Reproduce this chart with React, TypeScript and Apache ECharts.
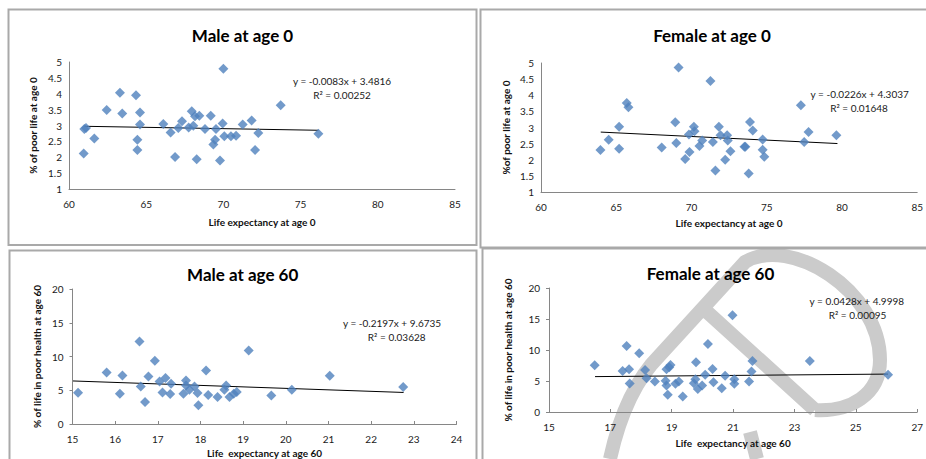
import React, { useEffect, useRef } from "react";
import * as echarts from "echarts";

// ---- Data ----
const panelTitles = ["Male at age 0", "Female at age 0", "Male at age 60", "Female at age 60"];
const xNames = ["Life expectancy at age 0", "Life expectancy at age 0", "Life  expectancy at age 60", "Life  expectancy at age 60"];
const yNames = ["% of poor life at age 0", "%of poor life at age 0", "% of life in poor health at age 60", "% of life in poor health at age 60"];
const equations = ["y = -0.0083x + 3.4816", "y = -0.0226x + 4.3037", "y = -0.2197x + 9.6735", "y = 0.0428x + 4.9998"];
const rSquared = ["R\u00b2 = 0.00252", "R\u00b2 = 0.01648", "R\u00b2 = 0.03628", "R\u00b2 = 0.00095"];
const slopes = [-0.0083, -0.0226, -0.2197, 0.0428];
const intercepts = [3.4816, 4.3037, 9.6735, 4.9998];
const trendStart = [61.0, 63.97, 15.0, 16.5];
const trendEnd = [76.15, 79.7, 22.76, 26.05];

const male0X = [60.99, 61.1, 60.95, 61.64, 62.44, 63.3, 63.45, 64.34, 64.6, 64.6, 64.43, 64.43, 66.11, 66.58, 66.87, 67.08, 67.32, 67.75, 67.95, 68.05, 68.16, 68.27, 68.44, 68.81, 69.18, 69.35, 69.46, 69.52, 69.78, 69.95, 70.0, 70.06, 70.49, 70.82, 71.25, 71.83, 72.05, 72.26, 73.71, 76.15];
const male0Y = [2.89, 2.92, 2.12, 2.59, 3.49, 4.03, 3.38, 3.95, 3.41, 3.03, 2.55, 2.23, 3.05, 2.78, 2.01, 2.92, 3.13, 2.94, 3.45, 2.99, 3.29, 1.94, 3.31, 2.89, 3.31, 2.4, 2.55, 2.89, 1.9, 3.06, 4.79, 2.66, 2.66, 2.68, 3.03, 3.16, 2.23, 2.76, 3.64, 2.74];

const female0X = [63.95, 64.5, 65.19, 65.19, 65.7, 65.81, 68.02, 68.92, 68.99, 69.14, 69.58, 69.87, 69.83, 70.16, 70.2, 70.53, 70.71, 71.26, 71.42, 71.59, 71.82, 71.93, 72.24, 72.37, 72.41, 72.59, 73.52, 73.58, 73.8, 73.89, 74.07, 74.73, 74.73, 74.84, 77.27, 77.49, 77.78, 79.63];
const female0Y = [2.3, 2.62, 3.02, 2.34, 3.76, 3.63, 2.38, 3.16, 2.52, 4.86, 2.02, 2.24, 2.78, 3.02, 2.88, 2.43, 2.6, 4.44, 2.55, 1.67, 3.02, 2.76, 2.0, 2.76, 2.6, 2.26, 2.4, 2.4, 1.57, 3.17, 2.91, 2.63, 2.31, 2.09, 3.69, 2.55, 2.86, 2.76];

const male60X = [15.13, 15.8, 16.11, 16.17, 16.57, 16.6, 16.7, 16.78, 16.93, 17.04, 17.11, 17.18, 17.29, 17.31, 17.6, 17.66, 17.66, 17.74, 17.86, 17.93, 17.95, 18.13, 18.18, 18.4, 18.56, 18.6, 18.68, 18.78, 18.85, 19.13, 19.66, 20.14, 21.03, 22.75];
const male60Y = [4.63, 7.64, 4.48, 7.19, 12.22, 5.57, 3.25, 7.04, 9.36, 6.31, 4.68, 6.8, 4.43, 5.96, 4.48, 6.45, 5.71, 5.07, 5.57, 4.58, 2.76, 7.93, 4.29, 3.99, 5.07, 5.71, 3.99, 4.48, 4.73, 10.89, 4.24, 5.07, 7.14, 5.47];

const female60X = [16.49, 17.4, 17.53, 17.61, 17.63, 17.94, 18.13, 18.18, 18.45, 18.8, 18.83, 18.83, 18.87, 18.92, 18.96, 19.12, 19.23, 19.36, 19.72, 19.77, 19.79, 19.85, 19.99, 20.09, 20.18, 20.33, 20.36, 20.63, 20.74, 20.98, 21.04, 21.04, 21.52, 21.6, 21.63, 23.5, 26.05];
const female60Y = [7.54, 6.63, 10.64, 6.9, 4.6, 9.47, 6.79, 5.45, 4.92, 5.03, 6.9, 4.28, 2.78, 7.22, 7.59, 4.55, 4.92, 2.51, 4.65, 5.29, 8.02, 3.69, 4.28, 5.99, 10.96, 6.95, 4.81, 3.85, 5.83, 15.61, 5.29, 4.55, 4.92, 6.52, 8.24, 8.24, 5.99];

const xMins = [60, 60, 15, 15];
const xMaxs = [85, 85, 24, 27];
const xIntervals = [5, 5, 1, 2];
const yMins = [1, 1, 0, 0];
const yMaxs = [5, 5, 20, 20];
const yIntervals = [0.5, 0.5, 5, 5];

const seriesX = [male0X, female0X, male60X, female60X];
const seriesY = [male0Y, female0Y, male60Y, female60Y];

// watermark shape
const WATERMARK_D =
  "M 610 459 Q 625 390 660 355 L 745 262 C 790 235 880 290 880 360 C 880 395 850 412 815 410 M 705 310 L 815 410 M 750 432 L 757 459";
echarts.graphic.registerShape("logo", echarts.graphic.extendPath(WATERMARK_D, {}));

const FONT = 'Lato, "Liberation Sans", sans-serif';

// layout
const grids = [
  { left: 69, top: 62, width: 386, height: 127 },
  { left: 541, top: 63, width: 377, height: 129 },
  { left: 72.5, top: 289, width: 384, height: 135 },
  { left: 549, top: 288, width: 371, height: 124 },
];
const xNameGaps = [28, 26, 24, 26];
const yNameGaps = [31, 30.5, 31, 36];
const titlePos = [
  [242.5, 35.5],
  [712, 35.5],
  [242.7, 274.7],
  [710.5, 273.8],
];
const eqPos = [
  [342, 81.2, 342, 95],
  [859.7, 94.3, 859, 108.3],
  [392, 322.7, 396.7, 336.7],
  [856.8, 301, 857.5, 315],
];
const frames = [
  { x: 8.5, y: 9.5, width: 468, height: 235.5 },
  { x: 480.5, y: 9.5, width: 470, height: 238 },
  { x: 9.5, y: 250.5, width: 467, height: 230 },
  { x: 482.5, y: 248.5, width: 470, height: 230 },
];

export default function App() {
  const ref = useRef<HTMLDivElement>(null);
  useEffect(() => {
    if (!ref.current) return;
    const chart = echarts.init(ref.current, undefined, { renderer: "svg" });

    const xAxis = grids.map((_, i) => ({
      type: "value",
      gridIndex: i,
      min: xMins[i],
      max: xMaxs[i],
      interval: xIntervals[i],
      name: xNames[i],
      nameLocation: "middle",
      nameGap: xNameGaps[i],
      nameTextStyle: { fontFamily: FONT, fontSize: 10, fontWeight: "bold", color: "#111" },
      axisLine: { show: true, onZero: false, lineStyle: { color: "#868686", width: 1 } },
      axisTick: { show: i >= 2, inside: true, length: 3, lineStyle: { color: "#868686" } },
      axisLabel: { fontFamily: FONT, fontSize: 10, color: "#1a1a1a", margin: 10 },
      splitLine: { show: false },
      z: 5,
    }));
    const yAxis = grids.map((_, i) => ({
      type: "value",
      gridIndex: i,
      min: yMins[i],
      max: yMaxs[i],
      interval: yIntervals[i],
      name: yNames[i],
      nameLocation: "middle",
      nameGap: yNameGaps[i],
      nameTextStyle: { fontFamily: FONT, fontSize: 10, fontWeight: "bold", color: "#111" },
      axisLine: { show: true, onZero: false, lineStyle: { color: "#868686", width: 1 } },
      axisTick: { show: i >= 2, length: 3, lineStyle: { color: "#868686" } },
      axisLabel: { fontFamily: FONT, fontSize: 10, color: "#1a1a1a", margin: i >= 2 ? 9 : 7 },
      splitLine: { show: false },
      z: 5,
    }));

    const series: any[] = [];
    for (let i = 0; i < 4; i++) {
      series.push({
        type: "scatter",
        xAxisIndex: i,
        yAxisIndex: i,
        symbol: "diamond",
        symbolSize: 10,
        itemStyle: { color: "#4f81bd" },
        data: seriesX[i].map((x, k) => [x, seriesY[i][k]]),
        z: 4,
      });
      series.push({
        type: "line",
        xAxisIndex: i,
        yAxisIndex: i,
        symbol: "none",
        lineStyle: { color: "#000", width: 1 },
        data: [
          [trendStart[i], slopes[i] * trendStart[i] + intercepts[i]],
          [trendEnd[i], slopes[i] * trendEnd[i] + intercepts[i]],
        ],
        z: 3,
      });
    }

    const graphic: any[] = [];
    graphic.push({
      type: "logo",
      x: 0,
      y: 0,
      z: -10,
      silent: true,
      style: { fill: "none", stroke: "#cbcbcb", lineWidth: 14, lineCap: "butt", lineJoin: "round" },
    });
    frames.forEach((f) => {
      graphic.push({
        type: "rect",
        shape: f,
        style: { fill: "none", stroke: "#a9a9a9", lineWidth: 2 },
        z: 0,
        silent: true,
      });
    });
    titlePos.forEach(([x, y], i) => {
      graphic.push({
        type: "text",
        x,
        y,
        z: 10,
        style: {
          text: panelTitles[i],
          fontFamily: FONT,
          fontSize: 17,
          fontWeight: "bold",
          fill: "#000",
          align: "center",
          verticalAlign: "middle",
          textAlign: "center",
          textVerticalAlign: "middle",
        },
      });
    });
    eqPos.forEach(([x1, y1, x2, y2], i) => {
      [
        [x1, y1, equations[i]],
        [x2, y2, rSquared[i]],
      ].forEach(([x, y, t]) => {
        graphic.push({
          type: "text",
          x,
          y,
          z: 10,
          style: {
            text: t,
            fontFamily: FONT,
            fontSize: 10,
            fill: "#1a1a1a",
            align: "center",
            verticalAlign: "middle",
            textAlign: "center",
            textVerticalAlign: "middle",
          },
        });
      });
    });

    chart.setOption({
      animation: false,
      backgroundColor: "#ffffff",
      grid: grids,
      xAxis,
      yAxis,
      series,
      graphic: { elements: graphic, z: -1 },
    });
    return () => chart.dispose();
  }, []);

  return (
    <div
      ref={ref}
      style={{ position: "absolute", left: 0, top: 0, width: 926, height: 459, background: "#fff" }}
    />
  );
}
